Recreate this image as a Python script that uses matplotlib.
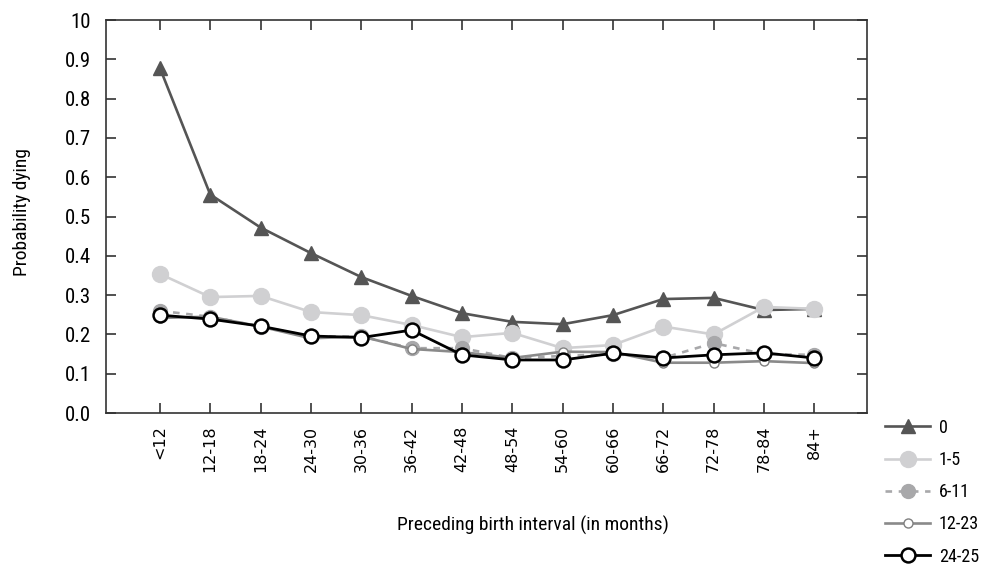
import matplotlib
matplotlib.use("Agg")
import matplotlib.pyplot as plt
from matplotlib import font_manager

# birth interval categories (months) and probability of dying by age group
intervals = ['<12', '12-18', '18-24', '24-30', '30-36', '36-42', '42-48',
             '48-54', '54-60', '60-66', '66-72', '72-78', '78-84', '84+']

p_0 = [0.878, 0.556, 0.472, 0.407, 0.346, 0.298, 0.254,
       0.232, 0.226, 0.249, 0.290, 0.293, 0.262, 0.265]
p_1_5 = [0.354, 0.295, 0.298, 0.257, 0.249, 0.224, 0.193,
         0.204, 0.165, 0.173, 0.220, 0.200, 0.270, 0.265]
p_6_11 = [0.260, 0.245, 0.220, 0.195, 0.195, 0.165, 0.165,
          0.140, 0.145, 0.150, 0.140, 0.178, 0.150, 0.148]
p_12_23 = [0.242, 0.245, 0.220, 0.190, 0.195, 0.163, 0.155,
           0.140, 0.156, 0.155, 0.128, 0.128, 0.132, 0.127]
p_24_25 = [0.249, 0.239, 0.221, 0.196, 0.192, 0.211, 0.148,
           0.135, 0.135, 0.152, 0.140, 0.148, 0.153, 0.140]

ytick_vals = [0.0, 0.1, 0.2, 0.3, 0.4, 0.5, 0.6, 0.7, 0.8, 0.9, 1.0]
ytick_labels = ['0.0', '0.1', '0.2', '0.3', '0.4', '0.5', '0.6', '0.7', '0.8', '0.9', '10']

# pick a narrow face for the axis text if one is around
installed = [(f.name, f.stretch) for f in font_manager.fontManager.ttflist]
names = set(n for n, _ in installed)
narrow = None
for cand in ['Liberation Sans Narrow', 'Roboto Condensed', 'Open Sans Condensed',
             'DejaVu Sans Condensed']:
    if cand in names:
        narrow = dict(family=cand)
        break
if narrow is None:
    cond = [n for n, st in installed if str(st) in ('condensed', 'semi-condensed', '500', '600')]
    if cond:
        narrow = dict(family=cond[0], stretch='condensed')
    else:
        narrow = dict(family='DejaVu Sans', stretch='condensed')

fig = plt.figure(figsize=(9.82, 5.67), dpi=100)
ax = fig.add_axes([0.108, 0.2716, 0.775, 0.693])

x = list(range(len(intervals)))

ax.plot(x, p_0, color='#555555', lw=1.9, marker='^', ms=10, mec='#555555', label='0')
ax.plot(x, p_1_5, color='#d0d0d2', lw=1.9, marker='o', ms=11.5, mec='#d0d0d2', label='1-5')
ax.plot(x, p_6_11, color='#a8a8aa', lw=1.9, ls=(0, (2.5, 2.5)), marker='o', ms=10,
        mec='#a8a8aa', label='6-11')
ax.plot(x, p_12_23, color='#8a8a8a', lw=1.9, marker='o', ms=6.5, mfc='white',
        mec='#808080', mew=1.0, label='12-23')
ax.plot(x, p_24_25, color='black', lw=2.0, marker='o', ms=10, mfc='white',
        mec='black', mew=1.8, label='24-25')

ax.set_xlim(-1.07, 14.05)
ax.set_ylim(0, 1.0)

ax.set_xticks(x)
ax.set_xticklabels(intervals, rotation=90, fontsize=11.5, family='DejaVu Sans')
ax.set_yticks(ytick_vals)
ax.set_yticklabels(ytick_labels, fontsize=15, **narrow)

ax.tick_params(axis='x', direction='in', length=7, width=1.1, pad=9,
               top=True, color='#222222')
ax.tick_params(axis='y', direction='in', length=7, width=1.1, pad=11,
               right=True, color='#222222')

for s in ax.spines.values():
    s.set_color('#333333')
    s.set_linewidth(1.2)

ax.set_ylabel('Probability dying', fontsize=14, **narrow)
ax.yaxis.set_label_coords(-0.099, 0.511)
ax.set_xlabel('Preceding birth interval (in months)', fontsize=14, **narrow)
ax.xaxis.set_label_coords(0.561, -0.262)

fig.legend(loc='upper left', bbox_to_anchor=(0.898, 0.268), frameon=False,
           handlelength=2.45, labelspacing=0.79, handletextpad=0.5,
           borderaxespad=0.0, borderpad=0.2,
           prop=dict(size=13, **narrow))

fig.savefig('out.png', dpi=100)
